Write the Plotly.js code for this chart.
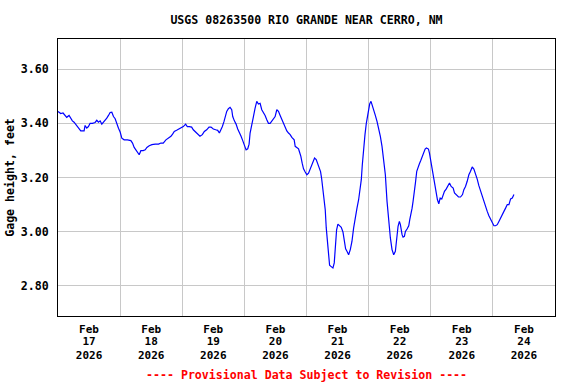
<!DOCTYPE html>
<html>
<head>
<meta charset="utf-8">
<script src="https://cdn.plot.ly/plotly-3.0.1.min.js"></script>
<style>html,body{margin:0;padding:0;background:#fff;}#chart{width:576px;height:384px;}</style>
</head>
<body>
<div id="chart"></div>
<script>
// Hours since 2026-02-17 00:00 (local station time)
var startDate = Date.UTC(2026, 1, 17, 0, 0, 0);
var hours = [
0,1.05,1.95,2.72,3.37,4.27,4.92,5.56,6.21,6.85,7.50,8.14,8.79,10.08,10.46,11.11,11.76,12.40,13.30,14.33,
14.98,15.63,16.27,16.92,17.56,18.21,18.85,19.50,20.14,20.79,21.43,22.08,22.72,23.37,24.01,24.66,25.56,26.85,28.14,28.79,
29.43,30.08,30.72,31.37,32.01,32.92,33.69,34.34,35.24,36.27,37.56,38.85,39.75,40.66,41.69,42.72,43.63,44.27,44.92,
45.82,46.85,47.76,48.40,49.30,49.95,50.72,51.63,52.27,53.18,53.95,54.85,55.76,56.53,57.43,58.34,59.11,60.01,60.92,61.69,
62.34,62.98,63.50,64.14,64.53,65.18,65.82,66.47,67.11,67.50,68.14,68.79,69.43,70.08,70.72,71.37,72.01,72.66,73.30,73.82,
74.21,74.85,75.50,76.14,76.79,77.43,78.08,78.72,79.37,80.01,80.66,81.30,81.95,82.59,83.24,83.88,84.53,85.17,85.82,86.46,
87.11,87.76,88.40,89.05,89.69,
90.34,91.24,91.63,92.27,92.92,93.30,93.82,94.33,94.85,95.50,96.14,96.79,97.43,98.08,98.72,99.11,99.75,100.27,100.92,101.43,
101.82,102.34,102.85,103.24,103.63,104.14,104.53,104.92,105.43,106.21,106.72,107.24,107.63,108.14,108.79,109.43,110.08,110.59,111.11,111.63,
112.27,112.92,113.56,114.21,114.85,115.50,116.14,116.79,117.17,117.56,118.08,118.59,119.11,119.62,120.01,120.40,120.92,121.43,121.95,122.59,
123.24,123.88,124.53,125.17,125.82,126.46,127.11,127.75,128.40,129.04,129.69,130.33,130.85,131.37,131.88,
132.27,132.92,133.30,133.82,134.21,134.85,135.50,135.88,136.40,136.79,137.17,137.69,138.08,138.59,139.11,139.62,140.14,140.66,141.30,141.82,
142.33,143.11,143.50,144.01,144.53,145.04,145.56,146.08,146.59,147.11,147.62,148.27,148.79,149.30,149.95,150.59,151.24,151.88,152.66,153.17,
153.95,154.72,155.50,156.27,156.79,157.43,158.08,158.72,159.37,160.01,160.66,161.30,161.95,162.59,163.24,163.88,164.53,165.17,165.82,166.46,
167.11,167.75,168.40,169.04,169.69,170.33,170.98,171.62,172.27,172.91,173.56,174.20,174.85,175.50,176.14
];
var gageHeight = [
3.444,3.436,3.438,3.429,3.422,3.429,3.417,3.409,3.404,3.397,3.388,3.380,3.372,3.372,3.392,3.382,3.388,3.400,3.400,3.403,
3.411,3.404,3.409,3.397,3.404,3.409,3.419,3.429,3.440,3.441,3.425,3.417,3.395,3.382,3.368,3.345,3.339,3.339,3.336,3.327,
3.311,3.302,3.296,3.284,3.299,3.299,3.302,3.311,3.317,3.321,3.323,3.323,3.327,3.327,3.339,3.345,3.352,3.360,3.370,
3.374,3.379,3.382,3.388,3.397,3.388,3.388,3.386,3.376,3.368,3.360,3.352,3.358,3.370,3.376,3.386,3.386,3.379,3.376,3.374,
3.364,3.376,3.388,3.407,3.425,3.444,3.454,3.459,3.450,3.425,3.409,3.397,3.379,3.368,3.352,3.336,3.321,3.302,3.306,3.323,
3.364,3.400,3.425,3.456,3.481,3.471,3.474,3.450,3.441,3.429,3.413,3.400,3.400,3.409,3.417,3.425,3.450,3.444,3.429,3.413,
3.400,3.382,3.372,3.364,3.358,
3.348,3.339,3.315,3.309,3.306,3.294,3.278,3.253,3.232,3.220,3.210,3.216,3.232,3.250,3.259,3.272,3.266,3.253,3.241,3.222,
3.198,3.155,3.112,3.081,3.014,2.952,2.903,2.876,2.872,2.866,2.885,2.940,3.007,3.028,3.023,3.016,2.999,2.971,2.937,2.928,
2.915,2.934,2.964,3.014,3.057,3.087,3.118,3.155,3.192,3.247,3.321,3.358,3.400,3.432,3.459,3.471,3.481,3.462,3.446,3.429,
3.407,3.382,3.352,3.315,3.266,3.210,3.112,3.038,2.977,2.934,2.915,2.928,2.977,3.020,3.038,
3.026,2.989,2.980,2.983,3.001,3.010,3.022,3.044,3.063,3.087,3.112,3.143,3.180,3.223,3.241,3.251,3.263,3.278,3.290,3.305,
3.309,3.305,3.290,3.259,3.229,3.198,3.167,3.137,3.118,3.103,3.124,3.121,3.137,3.149,3.157,3.170,3.180,3.167,3.161,3.143,
3.137,3.128,3.128,3.137,3.155,3.167,3.186,3.210,3.223,3.239,3.231,3.216,3.194,3.170,3.149,3.130,3.112,3.096,3.075,3.059,
3.047,3.032,3.022,3.022,3.026,3.038,3.050,3.057,3.075,3.087,3.100,3.100,3.121,3.124,3.137
];
var yTickVals = [2.80, 3.00, 3.20, 3.40, 3.60];
var titleText = 'USGS 08263500 RIO GRANDE NEAR CERRO, NM';
var yTitleText = 'Gage height, feet';
var footerText = '---- Provisional Data Subject to Revision ----';

function toDateStr(h) {
  return new Date(startDate + h * 3600000).toISOString().replace('T', ' ').slice(0, 19);
}
var times = hours.map(toDateStr);

var xRange = ['2026-02-17 00:00:00', '2026-02-25 00:00:00'];
var fontFam = '"DejaVu Sans Mono", "Liberation Mono", monospace';

var trace = {
  x: times, y: gageHeight, type: 'scatter', mode: 'lines',
  line: {color: '#0000FF', width: 1.2}, hoverinfo: 'skip', showlegend: false
};

function dateAxis(fmt, standoff, extra) {
  var a = {
    type: 'date', range: xRange, tick0: '2026-02-17', dtick: 86400000,
    ticklabelmode: 'period', tickformat: fmt, ticks: '', ticklabelstandoff: standoff,
    showgrid: false, zeroline: false, showline: false, fixedrange: true,
    tickfont: {family: fontFam, size: 11, color: '#000', weight: 'bold'}
  };
  for (var k in extra) a[k] = extra[k];
  return a;
}

var layout = {
  width: 576, height: 384,
  margin: {l: 58, r: 21, t: 39, b: 68},
  paper_bgcolor: '#ffffff', plot_bgcolor: '#ffffff',
  font: {family: fontFam, size: 11.6, color: '#000', weight: 'bold'},
  title: {text: titleText, x: 0.5, xref: 'paper', xanchor: 'center', y: 1 - 20/384, yref: 'container', yanchor: 'middle',
          font: {family: fontFam, size: 11.6, color: '#000', weight: 'bold'}},
  xaxis: dateAxis('%b', 3, {showgrid: true, gridcolor: '#c8c8c8', gridwidth: 1, showline: true, mirror: true, linecolor: '#000', linewidth: 1}),
  xaxis2: dateAxis('%d', 17, {overlaying: 'x', anchor: 'y', side: 'bottom'}),
  xaxis3: dateAxis('%Y', 31, {overlaying: 'x', anchor: 'y', side: 'bottom'}),
  yaxis: {
    range: [2.689, 3.711], tickvals: yTickVals, tickformat: '.2f', ticks: '', ticklabelstandoff: 6,
    showgrid: true, gridcolor: '#c8c8c8', gridwidth: 1, zeroline: false,
    showline: true, mirror: true, linecolor: '#000', linewidth: 1, fixedrange: true,
    tickfont: {family: fontFam, size: 11.6, color: '#000', weight: 'bold'},
    title: {text: yTitleText, standoff: 3, font: {family: fontFam, size: 11.6, color: '#000', weight: 'bold'}}
  },
  annotations: [{
    text: footerText, xref: 'paper', yref: 'paper', x: 0.5, y: -0.213, xanchor: 'center', yanchor: 'middle',
    showarrow: false, font: {family: fontFam, size: 11.6, color: '#FF0000', weight: 'bold'}
  }]
};

// empty traces so the overlaid label axes render
var t2 = {x: [], y: [], xaxis: 'x2', yaxis: 'y', type: 'scatter', mode: 'lines', showlegend: false, hoverinfo: 'skip'};
var t3 = {x: [], y: [], xaxis: 'x3', yaxis: 'y', type: 'scatter', mode: 'lines', showlegend: false, hoverinfo: 'skip'};

Plotly.newPlot('chart', [trace, t2, t3], layout, {staticPlot: true, displayModeBar: false});
</script>
</body>
</html>
